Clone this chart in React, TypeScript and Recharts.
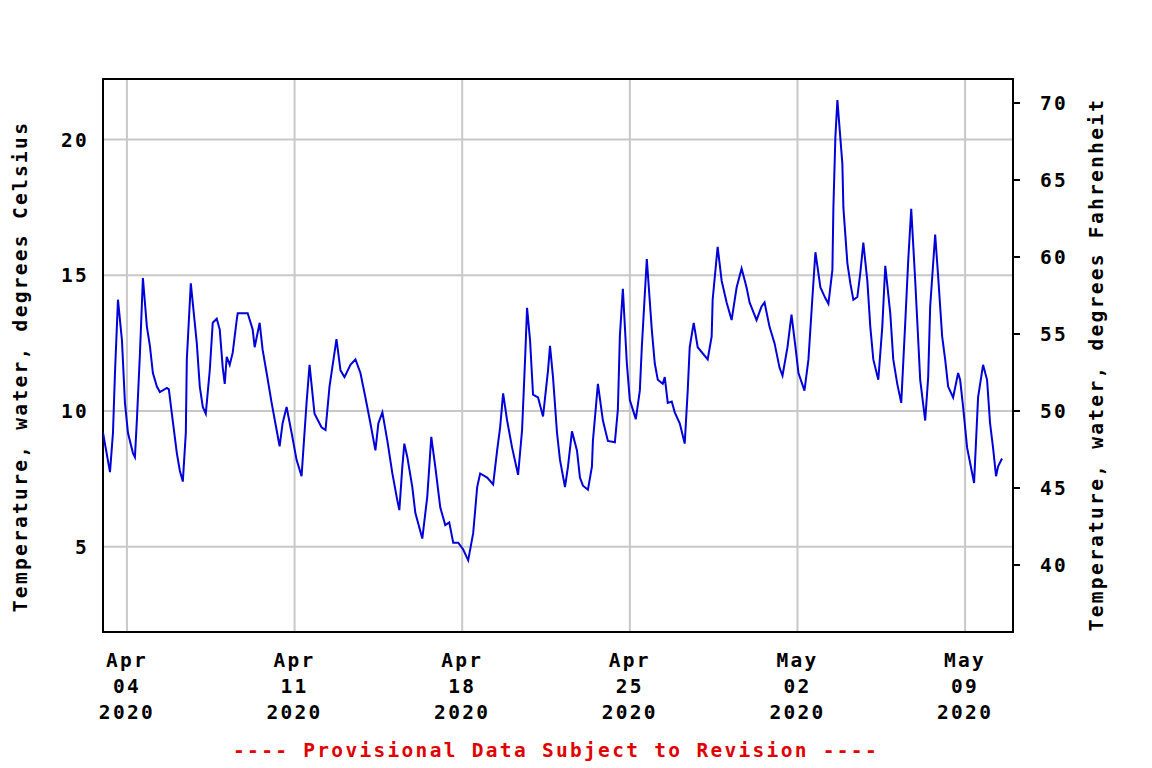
import React from "react";
import {
  LineChart,
  Line,
  XAxis,
  YAxis,
  CartesianGrid,
  ReferenceArea,
} from "recharts";

// Hours since 2020-04-03 00:00
const hours = [
  0, 7, 10, 12, 15, 19, 22, 25, 30, 32,
  34, 37, 40, 44, 47, 50, 54, 57, 64, 66,
  69, 74, 77, 80, 83, 84, 88, 94, 97, 100,
  103, 107, 110, 114, 117, 120, 122, 124, 127, 130,
  134, 135, 145, 150, 152, 157, 160, 164, 169, 174,
  177, 180, 184, 189, 194, 199, 204, 207, 212, 219,
  223, 227, 234, 238, 242, 248, 253, 258, 263, 268,
  273, 276, 280, 285, 290, 295, 297, 300, 302, 305,
  310, 313, 320, 325, 329, 333, 338, 343, 347, 351,
  356, 361, 366, 371, 375, 378, 385, 391, 395, 398,
  401, 405, 410, 416, 420, 423, 425, 428, 431, 436,
  441, 446, 448, 451, 455, 458, 463, 466, 470, 475,
  478, 481, 486, 490, 491, 496, 501, 506, 513, 516,
  518, 521, 525, 528, 534, 538, 540, 545, 550, 553,
  556, 561, 563, 566, 570, 573, 578, 583, 586, 588,
  592, 596, 606, 610, 611, 616, 620, 625, 630, 635,
  640, 645, 648, 655, 660, 663, 668, 673, 678, 681,
  686, 690, 694, 697, 703, 707, 711, 714, 719, 724,
  727, 731, 732, 734, 736, 741, 742, 746, 749, 752,
  756, 759, 762, 766, 769, 772, 777, 781, 784, 789,
  792, 796, 800, 804, 807, 810, 814, 816, 819, 824,
  827, 829, 834, 837, 841, 844, 847, 852, 857, 859,
  862, 866, 873, 877, 882, 886, 889, 892, 895, 897,
  901,
];

// Water temperature, degrees Celsius
const celsius = [
  9.2, 7.75, 9.2, 11.4, 14.1, 12.6, 10.3, 9.2, 8.45, 8.3,
  9.7, 12.1, 14.9, 13.1, 12.4, 11.4, 10.9, 10.7, 10.85, 10.8,
  9.9, 8.45, 7.8, 7.4, 9.2, 11.9, 14.7, 12.5, 10.9, 10.15,
  9.9, 11.5, 13.25, 13.4, 13.0, 11.6, 11.0, 12.0, 11.7, 12.15,
  13.35, 13.6, 13.6, 13.0, 12.35, 13.25, 12.25, 11.4, 10.3, 9.3,
  8.7, 9.55, 10.15, 9.2, 8.2, 7.6, 10.3, 11.7, 9.9, 9.4,
  9.3, 10.9, 12.65, 11.5, 11.25, 11.7, 11.9, 11.4, 10.5, 9.55,
  8.55, 9.55, 9.95, 8.9, 7.7, 6.7, 6.35, 7.95, 8.8, 8.3,
  7.2, 6.25, 5.3, 6.85, 9.05, 7.95, 6.45, 5.8, 5.9, 5.15,
  5.15, 4.9, 4.5, 5.5, 7.2, 7.7, 7.55, 7.3, 8.55, 9.4,
  10.65, 9.65, 8.65, 7.65, 9.3, 11.9, 13.8, 12.6, 10.6, 10.5,
  9.8, 11.5, 12.4, 11.25, 9.2, 8.2, 7.2, 7.95, 9.25, 8.55,
  7.55, 7.25, 7.1, 7.95, 8.9, 11.0, 9.65, 8.9, 8.85, 10.05,
  12.75, 14.5, 11.75, 10.4, 9.7, 10.75, 12.35, 15.6, 13.0, 11.75,
  11.15, 11.0, 11.25, 10.3, 10.35, 9.95, 9.55, 8.8, 10.75, 12.35,
  13.25, 12.35, 11.9, 12.75, 14.1, 16.05, 14.8, 14.0, 13.35, 14.55,
  15.25, 14.55, 14.0, 13.35, 13.85, 14.0, 13.1, 12.5, 11.6, 11.3,
  12.35, 13.55, 12.35, 11.4, 10.75, 11.9, 14.2, 15.85, 14.55, 14.15,
  13.95, 15.2, 17.5, 20.1, 21.45, 19.1, 17.5, 15.45, 14.7, 14.1,
  14.2, 15.1, 16.2, 14.8, 13.1, 11.9, 11.15, 13.1, 15.35, 13.6,
  11.9, 11.0, 10.3, 13.25, 15.55, 17.45, 14.8, 13.35, 11.15, 9.65,
  11.25, 13.85, 16.5, 14.95, 12.75, 11.9, 10.9, 10.5, 11.4, 11.15,
  10.15, 8.65, 7.35, 10.5, 11.7, 11.15, 9.55, 8.65, 7.6, 7.95,
  8.25,
];

const xDomain = [0, 912];
const xTickHours = [24, 192, 360, 528, 696, 864];
const xTickLabels = [
  ["Apr", "04", "2020"],
  ["Apr", "11", "2020"],
  ["Apr", "18", "2020"],
  ["Apr", "25", "2020"],
  ["May", "02", "2020"],
  ["May", "09", "2020"],
];

const celsiusDomain = [1.86, 22.23];
const celsiusTicks = [5, 10, 15, 20];
const fahrenheitDomain = [35.65, 71.56];
const fahrenheitTicks = [40, 45, 50, 55, 60, 65, 70];

const leftTitle = "Temperature, water, degrees Celsius";
const rightTitle = "Temperature, water, degrees Fahrenheit";
const footer = "---- Provisional Data Subject to Revision ----";

const data = hours.map((h, i) => ({ h, c: celsius[i] }));

const FONT = "'DejaVu Sans Mono', 'Liberation Mono', monospace";
const fontProps = {
  fontFamily: FONT,
  fontWeight: 700,
  fontSize: 19.5,
  letterSpacing: 2.3,
};

const XTick = (props: any) => {
  const { x, y, payload } = props;
  const idx = xTickHours.indexOf(payload.value);
  const lines = idx >= 0 ? xTickLabels[idx] : [];
  return (
    <g>
      {lines.map((t, i) => (
        <text
          key={i}
          x={x}
          y={y + 35 + i * 26}
          textAnchor="middle"
          fill="#000"
          {...fontProps}
        >
          {t}
        </text>
      ))}
    </g>
  );
};

const LeftTick = (props: any) => {
  const { x, y, payload } = props;
  return (
    <text x={x + 2} y={y + 7} textAnchor="end" fill="#000" {...fontProps}>
      {String(payload.value)}
    </text>
  );
};

const RightTick = (props: any) => {
  const { x, y, payload } = props;
  return (
    <text x={x} y={y + 7} textAnchor="start" fill="#000" {...fontProps}>
      {String(payload.value)}
    </text>
  );
};

const LeftLabel = (props: any) => {
  const vb = props.viewBox || { x: 0, y: 79, width: 103, height: 553 };
  const cx = vb.x + 20;
  const cy = vb.y + vb.height / 2 + 11;
  return (
    <text
      x={cx}
      y={cy}
      transform={`rotate(-90 ${cx} ${cy})`}
      textAnchor="middle"
      dominantBaseline="central"
      fill="#000"
      {...fontProps}
    >
      {leftTitle}
    </text>
  );
};

const RightLabel = (props: any) => {
  const vb = props.viewBox || { x: 1013, y: 79, width: 139, height: 553 };
  const cx = vb.x + 83;
  const cy = vb.y + vb.height / 2 + 9;
  return (
    <text
      x={cx}
      y={cy}
      transform={`rotate(-90 ${cx} ${cy})`}
      textAnchor="middle"
      dominantBaseline="central"
      fill="#000"
      {...fontProps}
    >
      {rightTitle}
    </text>
  );
};

const FooterLabel = (props: any) => {
  const vb = props.viewBox || { x: 103, y: 632, width: 910, height: 136 };
  return (
    <text
      x={vb.x + vb.width / 2 - 2}
      y={vb.y + 125}
      textAnchor="middle"
      fill="#e00000"
      {...fontProps}
    >
      {footer}
    </text>
  );
};

export default function App() {
  return (
    <div style={{ position: "absolute", left: 0, top: 0, width: 1152, height: 768, background: "#fff" }}>
      <LineChart
        width={1152}
        height={768}
        data={data}
        margin={{ top: 79, right: 0, bottom: 0, left: 0 }}
      >
        <CartesianGrid
          yAxisId="c"
          stroke="#c8c8c8"
          strokeWidth={2}
          horizontalValues={celsiusTicks}
          verticalValues={xTickHours}
        />
        <XAxis
          dataKey="h"
          type="number"
          domain={xDomain}
          ticks={xTickHours}
          height={136}
          axisLine={false}
          tickLine={false}
          tickSize={0}
          tickMargin={0}
          tick={<XTick />}
          interval={0}
          allowDataOverflow
          label={<FooterLabel />}
        />
        <YAxis
          yAxisId="c"
          orientation="left"
          width={103}
          type="number"
          domain={celsiusDomain}
          ticks={celsiusTicks}
          axisLine={false}
          tickLine={false}
          tickSize={0}
          tickMargin={16}
          tick={<LeftTick />}
          interval={0}
          allowDataOverflow
          label={<LeftLabel />}
        />
        <YAxis
          yAxisId="f"
          orientation="right"
          width={139}
          type="number"
          domain={fahrenheitDomain}
          ticks={fahrenheitTicks}
          axisLine={false}
          tickLine={{ stroke: "#000", strokeWidth: 2 }}
          tickSize={7}
          tickMargin={20}
          tick={<RightTick />}
          interval={0}
          allowDataOverflow
          label={<RightLabel />}
        />
        <Line
          yAxisId="c"
          type="linear"
          dataKey="c"
          stroke="#0000d8"
          strokeWidth={2}
          dot={false}
          activeDot={false}
          isAnimationActive={false}
        />
        <ReferenceArea
          yAxisId="c"
          x1={xDomain[0]}
          x2={xDomain[1]}
          y1={celsiusDomain[0]}
          y2={celsiusDomain[1]}
          fill="none"
          stroke="#000"
          strokeWidth={2}
          ifOverflow="visible"
        />
      </LineChart>
    </div>
  );
}
